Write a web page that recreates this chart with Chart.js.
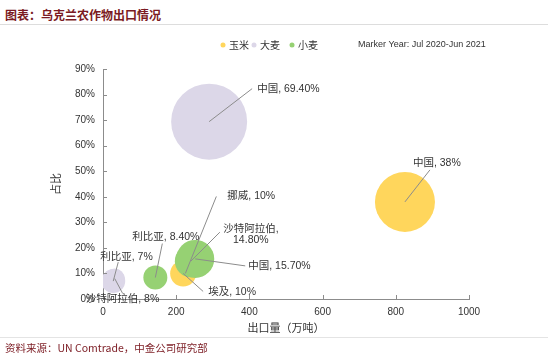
<!DOCTYPE html>
<html>
<head>
<meta charset="utf-8">
<script src="https://cdn.jsdelivr.net/npm/chart.js@4"></script>
<style>
    body { margin: 0; background: #fff; font-family: "Noto Sans CJK SC", sans-serif; }
    #wrap { position: relative; width: 550px; height: 361px; }
    #title { position: absolute; left: 5px; top: 6px; font-size: 12px; font-weight: bold; color: #7b1a22; }
    #topLine { position: absolute; left: 0; top: 24px; width: 548px; border-top: 1px solid #ddd; }
    #bottomLine { position: absolute; left: 0; top: 337px; width: 548px; border-top: 1px solid #e4e4e4; }
    #source { position: absolute; left: 5px; top: 340px; font-size: 10.5px; color: #7b1a22; }
    canvas { position: absolute; left: 0; top: 0; }
</style>
</head>
<body>
<div id="wrap">
    <div id="title">图表：乌克兰农作物出口情况</div>
    <div id="topLine"></div>
    <canvas id="bubbleChart" width="550" height="361"></canvas>
    <div id="bottomLine"></div>
    <div id="source">资料来源：UN Comtrade，中金公司研究部</div>
</div>
<script>
// DATA
const seriesNames = ['玉米', '大麦', '小麦'];

const cornX = [825, 219, 225];
const cornY = [38, 10, 10];
const cornSize = [30, 13, 8];
const cornLabels = ['中国, 38%', '埃及, 10%', '挪威, 10%'];

const barleyX = [290, 28, 32];
const barleyY = [69.4, 7, 8];
const barleySize = [38, 12, 10];
const barleyLabels = ['中国, 69.40%', '利比亚, 7%', '沙特阿拉伯, 8%'];

const wheatX = [252, 240, 143];
const wheatY = [15.7, 14.8, 8.4];
const wheatSize = [19, 16, 12];
const wheatLabels = ['中国, 15.70%', '沙特阿拉伯,\n14.80%', '利比亚, 8.40%'];

const xTicks = [0, 200, 400, 600, 800, 1000];
const yTicks = [0, 10, 20, 30, 40, 50, 60, 70, 80, 90];

const FONT = '"Liberation Sans", "Noto Sans CJK SC", sans-serif';
const CJK = '"Noto Sans CJK SC", sans-serif';

function points(xs, ys, rs, labels) {
    return xs.map((x, i) => ({ x: x, y: ys[i], r: rs[i], label: labels[i] }));
}

// label placement: line end + text anchor, as offsets from bubble centre
const labelPlacement = {
    '中国, 38%': { line: [25, -32], text: [8, -39], align: 'left' },
    '埃及, 10%': { line: [20, 18], text: [25, 19], align: 'left' },
    '挪威, 10%': { line: [31, -77], text: [42, -77], align: 'left' },
    '中国, 69.40%': { line: [43, -33], text: [48, -33], align: 'left' },
    '利比亚, 7%': { line: [5, -19], text: [-13, -24], align: 'left' },
    '沙特阿拉伯, 8%': { line: [8, 15], text: [-29, 21], align: 'left' },
    '中国, 15.70%': { line: [50, 7], text: [53, 7], align: 'left' },
    '沙特阿拉伯,\n14.80%': { line: [29, -29], text: [60, -32], align: 'center' },
    '利比亚, 8.40%': { line: [7, -34], text: [-23, -40], align: 'left' }
};

// legend dot x positions (left to right, in dataset order)
const legendX = [223, 254, 292];

// PLUGINS
const bubbleLabels = {
    id: 'bubbleLabels',
    afterDatasetsDraw(chart) {
        const ctx = chart.ctx;
        ctx.save();
        ctx.font = '10.5px ' + FONT;
        ctx.textBaseline = 'middle';
        chart.data.datasets.forEach((ds, di) => {
            const meta = chart.getDatasetMeta(di);
            meta.data.forEach((el, i) => {
                const p = labelPlacement[ds.data[i].label];
                if (!p) return;
                ctx.strokeStyle = '#8c8c8c';
                ctx.lineWidth = 1;
                ctx.beginPath();
                ctx.moveTo(el.x, el.y);
                ctx.lineTo(el.x + p.line[0], el.y + p.line[1]);
                ctx.stroke();
                ctx.fillStyle = '#333';
                ctx.textAlign = p.align;
                ds.data[i].label.split('\n').forEach((line, li) => {
                    ctx.fillText(line, el.x + p.text[0], el.y + p.text[1] + li * 11);
                });
            });
        });
        ctx.restore();
    }
};

const extras = {
    id: 'extras',
    afterDraw(chart) {
        const ctx = chart.ctx;
        const xs = chart.scales.x, ys = chart.scales.y;
        ctx.save();
        // inner tick marks
        ctx.strokeStyle = '#8c8c8c';
        ctx.lineWidth = 1;
        ctx.beginPath();
        xTicks.slice(1).forEach(v => {
            const px = Math.round(xs.getPixelForValue(v)) + 0.5;
            ctx.moveTo(px, ys.bottom);
            ctx.lineTo(px, ys.bottom - 4);
        });
        yTicks.slice(1).forEach(v => {
            const py = Math.round(ys.getPixelForValue(v)) + 0.5;
            ctx.moveTo(xs.left, py);
            ctx.lineTo(xs.left + 4, py);
        });
        ctx.stroke();
        // legend
        ctx.textBaseline = 'middle';
        ctx.textAlign = 'left';
        ctx.font = '10px ' + CJK;
        chart.data.datasets.forEach((ds, i) => {
            ctx.fillStyle = ds.backgroundColor;
            ctx.beginPath();
            ctx.arc(legendX[i], 45, 2.5, 0, Math.PI * 2);
            ctx.fill();
            ctx.fillStyle = '#333';
            ctx.fillText(ds.label, legendX[i] + 6, 45);
        });
        // marker year note
        ctx.font = '9px "Liberation Sans", Arial, sans-serif';
        ctx.fillText('Marker Year: Jul 2020-Jun 2021', 358, 45);
        ctx.restore();
    }
};

// CHART
const ctx = document.getElementById('bubbleChart').getContext('2d');
const chart = new Chart(ctx, {
    type: 'bubble',
    data: {
        datasets: [{
            label: seriesNames[0],
            data: points(cornX, cornY, cornSize, cornLabels),
            backgroundColor: '#ffd65c',
            borderWidth: 0,
            order: 3
        }, {
            label: seriesNames[1],
            data: points(barleyX, barleyY, barleySize, barleyLabels),
            backgroundColor: '#dcd7e8',
            borderWidth: 0,
            order: 2
        }, {
            label: seriesNames[2],
            data: points(wheatX, wheatY, wheatSize, wheatLabels),
            backgroundColor: '#96d173',
            borderWidth: 0,
            order: 1
        }]
    },
    options: {
        responsive: false,
        animation: false,
        events: [],
        layout: { padding: { left: 45, right: 81, top: 69, bottom: 27 } },
        plugins: {
            legend: { display: false },
            tooltip: { enabled: false }
        },
        scales: {
            x: {
                type: 'linear',
                min: 0,
                max: 1000,
                afterBuildTicks: s => { s.ticks = xTicks.map(v => ({ value: v })); },
                grid: { display: false, drawTicks: false },
                border: { color: '#8c8c8c', width: 1 },
                ticks: { color: '#333', padding: 7, font: { family: FONT, size: 10 }, callback: v => String(v) },
                title: { display: true, text: '出口量（万吨）', color: '#333', font: { family: CJK, size: 11 }, padding: { top: 3, bottom: 0 } },
                afterFit: s => { s.height = 35; }
            },
            y: {
                min: 0,
                max: 90,
                afterBuildTicks: s => { s.ticks = yTicks.map(v => ({ value: v })); },
                grid: { display: false, drawTicks: false },
                border: { color: '#8c8c8c', width: 1 },
                ticks: { color: '#333', padding: 8, font: { family: FONT, size: 10 }, callback: v => v + '%' },
                title: { display: true, text: '占比', color: '#333', font: { family: CJK, size: 11 }, padding: 4 },
                afterFit: s => { s.width = 58; }
            }
        }
    },
    plugins: [bubbleLabels, extras]
});
</script>
</body>
</html>
